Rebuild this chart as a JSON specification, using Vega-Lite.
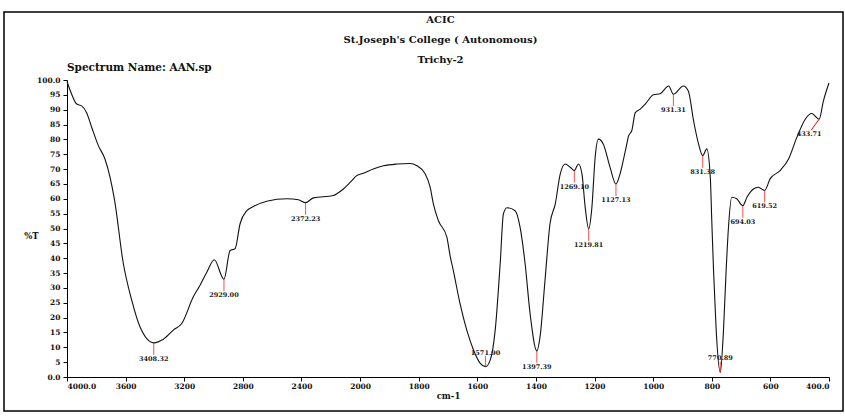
{
  "$schema": "https://vega.github.io/schema/vega-lite/v6.json",
  "width": 839,
  "height": 399,
  "autosize": {"type": "none"},
  "padding": {"left": 4, "top": 12, "right": 2, "bottom": 6},
  "background": "white",
  "config": {
    "view": {"stroke": "#000", "strokeWidth": 1.5},
    "font": "DejaVu Serif"
  },
  "title": {
    "text": ["ACIC", "St.Joseph's College ( Autonomous)", "Trichy-2"],
    "anchor": "middle",
    "frame": "group",
    "offset": -53,
    "dx": 17,
    "lineHeight": 20,
    "font": "DejaVu Serif",
    "fontSize": 10,
    "fontWeight": "bold",
    "color": "#111"
  },
  "datasets": {
    "curve": [
      {"wn": 4000, "T": 99.5}, {"wn": 3968, "T": 95.2}, {"wn": 3934, "T": 91.9}, {"wn": 3900, "T": 91.3},
      {"wn": 3866, "T": 89.0}, {"wn": 3831, "T": 84.0}, {"wn": 3786, "T": 77.9}, {"wn": 3741, "T": 73.4},
      {"wn": 3706, "T": 67.2}, {"wn": 3675, "T": 59.4}, {"wn": 3616, "T": 38.3}, {"wn": 3558, "T": 25.8},
      {"wn": 3502, "T": 16.9}, {"wn": 3408, "T": 11.5}, {"wn": 3343, "T": 12.7}, {"wn": 3274, "T": 15.8},
      {"wn": 3217, "T": 18.0}, {"wn": 3138, "T": 27.0}, {"wn": 3092, "T": 30.9}, {"wn": 3046, "T": 35.3},
      {"wn": 2995, "T": 39.5}, {"wn": 2929, "T": 32.9}, {"wn": 2887, "T": 42.6}, {"wn": 2853, "T": 43.2},
      {"wn": 2819, "T": 51.6}, {"wn": 2773, "T": 56.0}, {"wn": 2728, "T": 57.4}, {"wn": 2637, "T": 59.2},
      {"wn": 2500, "T": 60.0}, {"wn": 2421, "T": 59.7}, {"wn": 2372, "T": 58.7}, {"wn": 2319, "T": 60.3},
      {"wn": 2182, "T": 61.1}, {"wn": 2159, "T": 61.7}, {"wn": 2114, "T": 63.3}, {"wn": 2068, "T": 65.5},
      {"wn": 2023, "T": 67.8}, {"wn": 1989, "T": 68.6}, {"wn": 1955, "T": 70.0}, {"wn": 1920, "T": 71.1},
      {"wn": 1875, "T": 71.7}, {"wn": 1829, "T": 71.9}, {"wn": 1806, "T": 71.1}, {"wn": 1778, "T": 68.4},
      {"wn": 1761, "T": 63.9}, {"wn": 1750, "T": 58.3}, {"wn": 1733, "T": 52.7}, {"wn": 1704, "T": 47.1},
      {"wn": 1693, "T": 40.9}, {"wn": 1682, "T": 35.9}, {"wn": 1659, "T": 24.7}, {"wn": 1636, "T": 15.8},
      {"wn": 1613, "T": 9.1}, {"wn": 1590, "T": 4.6}, {"wn": 1572, "T": 3.5}, {"wn": 1556, "T": 5.7},
      {"wn": 1539, "T": 15.8}, {"wn": 1522, "T": 38.2}, {"wn": 1511, "T": 54.9}, {"wn": 1499, "T": 57.0},
      {"wn": 1471, "T": 56.0}, {"wn": 1454, "T": 50.4}, {"wn": 1437, "T": 38.2}, {"wn": 1420, "T": 21.4},
      {"wn": 1397, "T": 8.8}, {"wn": 1386, "T": 13.5}, {"wn": 1369, "T": 32.6}, {"wn": 1352, "T": 51.6},
      {"wn": 1334, "T": 58.3}, {"wn": 1317, "T": 68.4}, {"wn": 1300, "T": 71.7}, {"wn": 1283, "T": 70.6},
      {"wn": 1269, "T": 69.5}, {"wn": 1255, "T": 71.7}, {"wn": 1243, "T": 68.4}, {"wn": 1232, "T": 57.2},
      {"wn": 1220, "T": 49.9}, {"wn": 1209, "T": 57.2}, {"wn": 1198, "T": 73.9}, {"wn": 1187, "T": 80.1},
      {"wn": 1170, "T": 78.4}, {"wn": 1147, "T": 70.6}, {"wn": 1127, "T": 65.0}, {"wn": 1113, "T": 68.4},
      {"wn": 1101, "T": 73.4}, {"wn": 1090, "T": 78.4}, {"wn": 1084, "T": 81.2}, {"wn": 1073, "T": 82.9},
      {"wn": 1061, "T": 89.0}, {"wn": 1044, "T": 90.2}, {"wn": 1027, "T": 91.9}, {"wn": 999, "T": 95.0},
      {"wn": 976, "T": 95.4}, {"wn": 947, "T": 98.0}, {"wn": 931, "T": 95.2}, {"wn": 897, "T": 98.0},
      {"wn": 880, "T": 96.3}, {"wn": 862, "T": 86.2}, {"wn": 845, "T": 78.4}, {"wn": 831, "T": 74.5},
      {"wn": 817, "T": 76.8}, {"wn": 805, "T": 67.2}, {"wn": 800, "T": 52.7}, {"wn": 794, "T": 35.9},
      {"wn": 785, "T": 15.8}, {"wn": 771, "T": 1.6}, {"wn": 760, "T": 15.8}, {"wn": 751, "T": 35.9},
      {"wn": 743, "T": 50.4}, {"wn": 732, "T": 60.5}, {"wn": 715, "T": 60.0}, {"wn": 694, "T": 57.7},
      {"wn": 680, "T": 60.5}, {"wn": 658, "T": 63.3}, {"wn": 641, "T": 63.9}, {"wn": 619.5, "T": 62.8},
      {"wn": 601, "T": 66.7}, {"wn": 567, "T": 69.5}, {"wn": 538, "T": 73.4}, {"wn": 510, "T": 80.6},
      {"wn": 481, "T": 86.8}, {"wn": 459, "T": 88.7}, {"wn": 433.7, "T": 86.8}, {"wn": 419, "T": 93.0},
      {"wn": 400, "T": 99.0}
    ],
    "peaks": [
      {"wn": 3408, "T": 11.5, "label": "3408.32"},
      {"wn": 2929, "T": 32.9, "label": "2929.00"},
      {"wn": 2372, "T": 58.7, "label": "2372.23"},
      {"wn": 1572, "T": 3.5, "label": "1571.90"},
      {"wn": 1397, "T": 8.8, "label": "1397.39"},
      {"wn": 1269, "T": 69.5, "label": "1269.10"},
      {"wn": 1220, "T": 49.9, "label": "1219.81"},
      {"wn": 1127, "T": 65.0, "label": "1127.13"},
      {"wn": 931, "T": 95.2, "label": "931.31"},
      {"wn": 831, "T": 74.5, "label": "831.38"},
      {"wn": 771, "T": 1.6, "label": "770.89"},
      {"wn": 694, "T": 57.7, "label": "694.03"},
      {"wn": 619.5, "T": 62.8, "label": "619.52"},
      {"wn": 433.7, "T": 86.8, "label": "433.71"}
    ],
    "header": [{"name": "Spectrum Name: AAN.sp", "wn": 4000, "T": 104.0}]
  },
  "encoding": {
    "x": {
      "field": "wn",
      "type": "quantitative",
      "scale": {"type": "linear", "domain": [4000, 2000, 400], "range": [63, 356.1, 825], "nice": false, "zero": false},
      "axis": {
        "offset": -34,
        "values": [4000, 3600, 3200, 2800, 2400, 2000, 1800, 1600, 1400, 1200, 1000, 800, 600, 400],
        "format": "d",
        "labelExpr": "datum.value == 4000 ? '4000.0' : datum.value == 400 ? '400.0' : datum.label",
        "title": "cm-1",
        "grid": false,
        "domainColor": "#000",
        "tickColor": "#000",
        "tickSize": 4,
        "labelPadding": 1,
        "labelFont": "DejaVu Serif",
        "labelFontSize": 7.5,
        "labelFontWeight": "bold",
        "labelColor": "#111",
        "labelOverlap": false,
        "titleFont": "DejaVu Serif",
        "titleFontSize": 8.5,
        "titleFontWeight": "bold",
        "titleColor": "#111",
        "titlePadding": 2
      }
    },
    "y": {
      "field": "T",
      "type": "quantitative",
      "scale": {"domain": [0, 100], "range": [365, 68], "nice": false, "zero": false},
      "axis": {
        "offset": -63,
        "values": [0, 5, 10, 15, 20, 25, 30, 35, 40, 45, 50, 55, 60, 65, 70, 75, 80, 85, 90, 95, 100],
        "labelExpr": "datum.value == 100 ? '100.0' : datum.value == 0 ? '0.0' : datum.label",
        "title": "%T",
        "titleAngle": 0,
        "titleX": -36,
        "titleY": 223,
        "titleAlign": "center",
        "titleBaseline": "middle",
        "grid": false,
        "domainColor": "#000",
        "tickColor": "#000",
        "tickSize": 4,
        "labelPadding": 3,
        "labelFont": "DejaVu Serif",
        "labelFontSize": 7.5,
        "labelFontWeight": "bold",
        "labelColor": "#111",
        "labelOverlap": false,
        "titleFont": "DejaVu Serif",
        "titleFontSize": 8.5,
        "titleFontWeight": "bold",
        "titleColor": "#111"
      }
    }
  },
  "layer": [
    {
      "data": {"name": "curve"},
      "mark": {"type": "line", "color": "#111", "strokeWidth": 1.1, "interpolate": "monotone"}
    },
    {
      "data": {"name": "peaks"},
      "transform": [{"filter": {"not": {"field": "label", "oneOf": ["1571.90", "770.89", "433.71"]}}}],
      "mark": {"type": "tick", "orient": "vertical", "size": 12, "thickness": 1, "yOffset": 6, "color": "#ff0000"}
    },
    {
      "data": {"name": "peaks"},
      "transform": [{"filter": {"field": "label", "oneOf": ["1571.90", "770.89"]}}],
      "mark": {"type": "tick", "orient": "vertical", "size": 11, "thickness": 1, "yOffset": -5, "color": "#ff0000"}
    },
    {
      "data": {"name": "peaks"},
      "transform": [{"filter": {"field": "label", "equal": "433.71"}}],
      "mark": {"type": "point", "shape": "M0,0L-0.8,1.1", "size": 400, "filled": false, "stroke": "#ff0000", "strokeWidth": 1, "opacity": 1}
    },
    {
      "data": {"name": "peaks"},
      "transform": [{"filter": {"not": {"field": "label", "oneOf": ["1571.90", "770.89", "433.71"]}}}],
      "mark": {"type": "text", "baseline": "top", "align": "center", "dy": 13, "font": "DejaVu Serif", "fontSize": 6.5, "fontWeight": "bold", "color": "#222"},
      "encoding": {"text": {"field": "label"}}
    },
    {
      "data": {"name": "peaks"},
      "transform": [{"filter": {"field": "label", "equal": "433.71"}}],
      "mark": {"type": "text", "baseline": "top", "align": "center", "dx": -10, "dy": 12, "font": "DejaVu Serif", "fontSize": 6.5, "fontWeight": "bold", "color": "#222"},
      "encoding": {"text": {"field": "label"}}
    },
    {
      "data": {"name": "peaks"},
      "transform": [{"filter": {"field": "label", "oneOf": ["1571.90", "770.89"]}}],
      "mark": {"type": "text", "baseline": "bottom", "align": "center", "dy": -11, "font": "DejaVu Serif", "fontSize": 6.5, "fontWeight": "bold", "color": "#222"},
      "encoding": {"text": {"field": "label"}}
    },
    {
      "data": {"name": "header"},
      "mark": {"type": "text", "align": "left", "baseline": "middle", "font": "DejaVu Serif", "fontSize": 10.5, "fontWeight": "bold", "color": "#111"},
      "encoding": {"text": {"field": "name"}}
    }
  ]
}
